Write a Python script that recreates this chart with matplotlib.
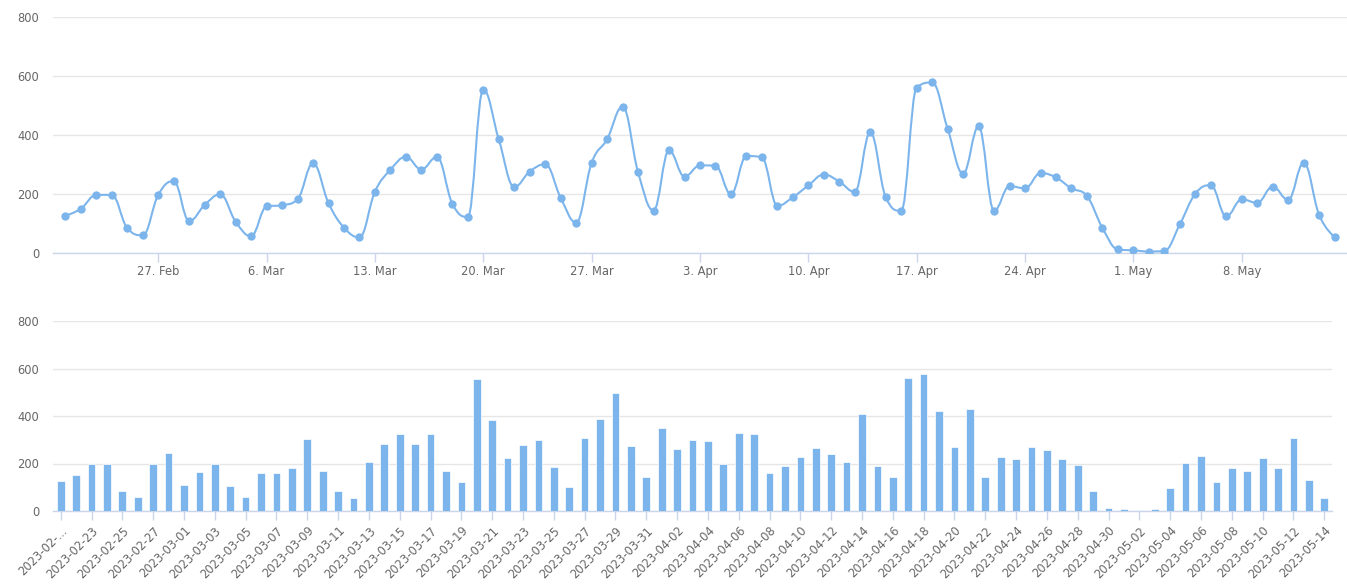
import numpy as np
import pandas as pd
import matplotlib
matplotlib.use('Agg')
import matplotlib.pyplot as plt
from matplotlib.path import Path
from matplotlib.patches import PathPatch

# daily counts, 2023-02-21 .. 2023-05-14
start_date = '2023-02-21'
end_date = '2023-05-14'
counts = [
    126, 150, 197, 197, 84, 60, 197, 244,             # Feb 21-28
    108, 163, 199, 106, 57, 158, 162, 182, 304, 169,  # Mar 1-10
    86, 53, 208, 282, 326, 283, 326, 167, 122, 554,   # Mar 11-20
    385, 224, 276, 301, 187, 103, 306, 386, 496, 274, 144,  # Mar 21-31
    348, 259, 297, 296, 199, 329, 324, 160, 189, 229,  # Apr 1-10
    266, 242, 207, 409, 189, 143, 561, 578, 421, 269,  # Apr 11-20
    429, 143, 227, 219, 271, 256, 219, 193, 85, 12,    # Apr 21-30
    9, 5, 7, 97, 201, 230, 124, 182, 170, 225, 180, 306, 129, 53,  # May 1-14
]
week_ticks = ['2023-02-27', '2023-03-06', '2023-03-13', '2023-03-20', '2023-03-27',
              '2023-04-03', '2023-04-10', '2023-04-17', '2023-04-24', '2023-05-01',
              '2023-05-08']

BLUE = '#7cb5ec'
GRID = '#e6e6e6'
AXIS = '#ccd6eb'
TXT = '#666666'

dates = pd.date_range(start_date, end_date, freq='D')
vals = np.array(counts, dtype=float)
xs = np.arange(len(vals), dtype=float)


def spline_path(x, y, smoothing=1.5):
    # highcharts-like spline through the points
    n = len(x)
    right = [(x[i], y[i]) for i in range(n)]
    left = [(x[i], y[i]) for i in range(n)]
    for i in range(1, n - 1):
        px, py = x[i], y[i]
        lx, ly = x[i - 1], y[i - 1]
        nx, ny = x[i + 1], y[i + 1]
        d = smoothing + 1
        lcx = (smoothing * px + lx) / d
        lcy = (smoothing * py + ly) / d
        rcx = (smoothing * px + nx) / d
        rcy = (smoothing * py + ny) / d
        corr = ((rcy - lcy) * (rcx - px)) / (rcx - lcx) + py - rcy
        lcy += corr
        rcy += corr
        if lcy > ly and lcy > py:
            lcy = max(ly, py)
            rcy = 2 * py - lcy
        elif lcy < ly and lcy < py:
            lcy = min(ly, py)
            rcy = 2 * py - lcy
        if rcy > ny and rcy > py:
            rcy = max(ny, py)
            lcy = 2 * py - rcy
        elif rcy < ny and rcy < py:
            rcy = min(ny, py)
            lcy = 2 * py - rcy
        left[i] = (lcx, lcy)
        right[i] = (rcx, rcy)
    verts = [(x[0], y[0])]
    codes = [Path.MOVETO]
    for i in range(1, n):
        verts += [right[i - 1], left[i], (x[i], y[i])]
        codes += [Path.CURVE4] * 3
    return Path(verts, codes)


W, H = 1347, 585
fig = plt.figure(figsize=(W / 100, H / 100), dpi=100)
plt.rcParams['font.family'] = 'DejaVu Sans'

# ---- top: spline chart ----
ax1 = fig.add_axes([53 / W, 1 - 253 / H, 1294 / W, 236 / H])
ax1.add_patch(PathPatch(spline_path(xs, vals), facecolor='none', edgecolor=BLUE, lw=1.5, zorder=3))
ax1.plot(xs, vals, 'o', color=BLUE, ms=6, mec='none', zorder=4)
ax1.set_xlim(-0.8, len(vals) - 1 + 0.8)
ax1.set_ylim(0, 800)
ax1.set_yticks([0, 200, 400, 600, 800])
tick_pos = [(pd.Timestamp(d) - dates[0]).days for d in week_ticks]
tick_lab = [f'{pd.Timestamp(d).day}. {pd.Timestamp(d).strftime("%b")}' for d in week_ticks]
ax1.set_xticks(tick_pos)
ax1.set_xticklabels(tick_lab)

# ---- bottom: columns ----
ax2 = fig.add_axes([53 / W, 1 - 511 / H, 1279 / W, 190 / H])
ax2.bar(xs, vals, width=0.5, color=BLUE, edgecolor='white', linewidth=0.5, zorder=3)
ax2.set_xlim(-0.5, len(vals) - 0.5)
ax2.set_ylim(0, 800)
ax2.set_yticks([0, 200, 400, 600, 800])
labels = [d.strftime('%Y-%m-%d') for d in dates]
labels[0] = '2023-02-...'
ax2.set_xticks(xs[::2])
ax2.set_xticklabels(labels[::2], rotation=45, ha='right', va='top', rotation_mode='anchor')

for ax in (ax1, ax2):
    for s in ('top', 'right', 'left'):
        ax.spines[s].set_visible(False)
    ax.spines['bottom'].set_color(AXIS)
    ax.spines['bottom'].set_linewidth(1)
    ax.grid(axis='y', color=GRID, lw=1, zorder=0)
    ax.set_axisbelow(True)
    ax.tick_params(axis='y', length=0, pad=10, labelsize=8.3, labelcolor=TXT)
    ax.tick_params(axis='x', length=6.5, width=1, color=AXIS, labelsize=8.3, labelcolor=TXT, pad=2)
    ax.set_facecolor('none')

ax2.tick_params(axis='x', pad=3)

fig.savefig('out.png', dpi=100)
